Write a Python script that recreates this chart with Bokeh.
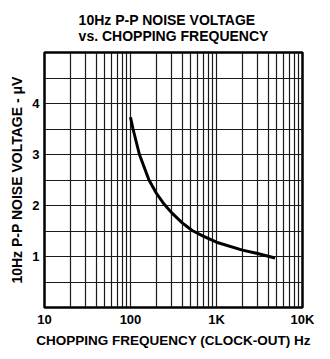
from bokeh.plotting import figure
from bokeh.models import FixedTicker, Range1d
from bokeh.embed import file_html
from bokeh.resources import INLINE

# Data
freq_hz = [100, 107, 127, 164, 200, 240, 300, 400, 520, 700, 1000, 2000, 3000, 4000, 4800]
noise_uv = [3.73, 3.5, 3.0, 2.5, 2.24, 2.05, 1.86, 1.66, 1.51, 1.40, 1.28, 1.125, 1.06, 1.005, 0.97]

x_ticks = [10, 100, 1000, 10000]
x_tick_labels = ["10", "100", "1K", "10K"]
y_ticks = [1, 2, 3, 4]
x_grid = [m * d for d in (10, 100, 1000) for m in range(1, 10)][1:]
y_grid = [0.5, 1, 1.5, 2, 2.5, 3, 3.5, 4, 4.5]

FONT = "Liberation Sans"

p = figure(frame_width=258, frame_height=255, x_axis_type="log",
           x_range=Range1d(10, 10000), y_range=Range1d(0, 5),
           output_backend="svg", toolbar_location=None,
           title="10Hz P-P NOISE VOLTAGE\nvs. CHOPPING FREQUENCY",
           min_border_left=44, min_border_right=12,
           min_border_top=47, min_border_bottom=38)

p.title.align = "center"
p.title.text_font = FONT
p.title.text_font_size = "14px"
p.title.text_font_style = "bold"
p.title.text_color = "black"
p.title.text_line_height = 1.0
p.title.standoff = 18

p.line(freq_hz, noise_uv, line_width=3, line_color="black")

p.xaxis.ticker = FixedTicker(ticks=x_ticks)
p.xaxis.major_label_overrides = {t: l for t, l in zip(x_ticks, x_tick_labels)}
p.yaxis.ticker = FixedTicker(ticks=y_ticks)

for ax in (p.xaxis, p.yaxis):
    ax.major_tick_line_color = None
    ax.minor_tick_line_color = None
    ax.major_tick_out = 0
    ax.major_tick_in = 0
    ax.minor_tick_out = 0
    ax.minor_tick_in = 0
    ax.axis_line_color = None
    ax.major_label_text_font = FONT
    ax.major_label_text_font_size = "13px"
    ax.major_label_text_font_style = "bold"
    ax.major_label_text_color = "black"
    ax.axis_label_text_font = FONT
    ax.axis_label_text_font_size = "14px"
    ax.axis_label_text_font_style = "bold"
    ax.axis_label_text_color = "black"

p.xaxis.axis_label_text_font_size = "13.5px"
p.xaxis.axis_label = "CHOPPING FREQUENCY (CLOCK-OUT) Hz"
p.yaxis.axis_label = "10Hz P-P NOISE VOLTAGE - \u03bcV"
p.xaxis.major_label_standoff = 4
p.yaxis.major_label_standoff = 5
p.xaxis.axis_label_standoff = 3
p.yaxis.axis_label_standoff = 4

p.xgrid.ticker = FixedTicker(ticks=x_grid)
p.ygrid.ticker = FixedTicker(ticks=y_grid)
p.grid.grid_line_color = "#1a1a1a"
p.grid.grid_line_width = 1.2
p.grid.grid_line_alpha = 1.0

p.outline_line_color = "black"
p.outline_line_width = 2.5
p.background_fill_color = "white"
p.border_fill_color = "white"

open("out.html", "w").write(file_html(p, INLINE))
